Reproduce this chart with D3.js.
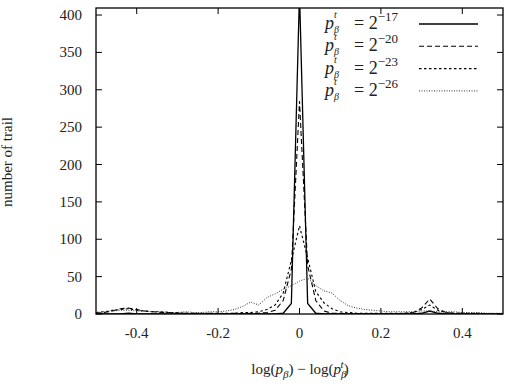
<!DOCTYPE html>
<html>
<head>
<meta charset="utf-8">
<script src="https://cdn.jsdelivr.net/npm/d3@7"></script>
<style>
body { margin:0; background:white; }
text { font-family: "Liberation Serif", "DejaVu Serif", serif; fill:#222; }
</style>
</head>
<body>
<script>
// bins of log(p) - log(p^t)
var bins = [-0.5,-0.48,-0.46,-0.44,-0.42,-0.4,-0.38,-0.36,-0.34,-0.32,-0.3,-0.28,-0.26,-0.24,-0.22,-0.2,-0.18,-0.16,-0.14,-0.12,-0.1,-0.08,-0.06,-0.04,-0.02,
            0,0.02,0.04,0.06,0.08,0.1,0.12,0.14,0.16,0.18,0.2,0.22,0.24,0.26,0.28,0.3,0.32,0.34,0.36,0.38,0.4,0.42,0.44,0.46,0.48,0.5];

var p17 = [0,0,0,0,1,0,0,0,0,0,0,0,0,0,0,0,0,0,0,0,0,0,0,1,14,
           430,14,1,0,0,0,0,0,0,0,0,0,0,0,0,1,4,1,0,0,0,0,0,0,0,0];
var p20 = [1,2,4,7,8,6,4,3,2,2,1,1,1,0,1,0,0,1,0,1,1,2,5,18,60,
           285,65,18,4,1,1,0,0,0,0,0,0,0,1,2,8,20,7,2,1,1,0,0,0,0,0];
var p23 = [2,3,5,6,7,5,4,3,3,2,2,1,1,1,1,1,1,1,2,2,3,6,12,28,72,
           118,75,30,15,7,3,2,1,1,1,1,1,1,1,2,6,12,5,2,1,1,1,1,0,0,0];
var p26 = [2,3,4,5,5,4,4,3,3,2,2,3,2,2,3,3,4,6,10,16,12,22,27,33,38,
           44,48,38,31,28,18,11,8,6,5,4,3,3,3,3,4,4,3,3,3,2,2,2,1,1,1];

var series = [
    {exp:"17", values:p17, dash:null, width:1.3, color:"#000"},
    {exp:"20", values:p20, dash:"5,3", width:1.1, color:"#000"},
    {exp:"23", values:p23, dash:"2.5,2.5", width:1.1, color:"#000"},
    {exp:"26", values:p26, dash:"1,1.5", width:1, color:"#333"}
];

var xTicks = [-0.4,-0.2,0,0.2,0.4];
var yTicks = [0,50,100,150,200,250,300,350,400];

var pLeft = 96, pRight = 503, pTop = 8, pBottom = 314;

var x_scale = d3.scaleLinear().domain([-0.5,0.5]).range([pLeft,pRight]);
var y_scale = d3.scaleLinear().domain([0,409.4]).range([pBottom,pTop]);

var svg = d3.select("body").append("svg")
            .attr("width",512)
            .attr("height",384)
            .style("background","white");

svg.append("clipPath").attr("id","plotclip")
   .append("rect")
   .attr("x",pLeft).attr("y",pTop)
   .attr("width",pRight-pLeft).attr("height",pBottom-pTop);

// ticks, mirrored on all four sides like gnuplot
var tickLen = 6;
svg.selectAll(".xtb").data(xTicks).enter().append("line")
   .attr("x1",d => x_scale(d)).attr("x2",d => x_scale(d))
   .attr("y1",pBottom).attr("y2",pBottom-tickLen)
   .attr("stroke","#000").attr("stroke-width",1);
svg.selectAll(".xtt").data(xTicks).enter().append("line")
   .attr("x1",d => x_scale(d)).attr("x2",d => x_scale(d))
   .attr("y1",pTop).attr("y2",pTop+tickLen)
   .attr("stroke","#000").attr("stroke-width",1);
svg.selectAll(".ytl").data(yTicks).enter().append("line")
   .attr("x1",pLeft).attr("x2",pLeft+tickLen)
   .attr("y1",d => y_scale(d)).attr("y2",d => y_scale(d))
   .attr("stroke","#000").attr("stroke-width",1);
svg.selectAll(".ytr").data(yTicks).enter().append("line")
   .attr("x1",pRight).attr("x2",pRight-tickLen)
   .attr("y1",d => y_scale(d)).attr("y2",d => y_scale(d))
   .attr("stroke","#000").attr("stroke-width",1);

// tick labels
svg.selectAll(".xl").data(xTicks).enter().append("text")
   .attr("x",d => x_scale(d))
   .attr("y",338)
   .attr("text-anchor","middle")
   .style("font-size","15px")
   .text(d => d === 0 ? "0" : d3.format(".1f")(d).replace("−","-"));

svg.selectAll(".yl").data(yTicks).enter().append("text")
   .attr("x",82)
   .attr("y",d => y_scale(d)+5)
   .attr("text-anchor","end")
   .style("font-size","15px")
   .text(d => d);

// lines
var line = d3.line()
             .x((d,i) => x_scale(bins[i]))
             .y(d => y_scale(d));

var plot = svg.append("g").attr("clip-path","url(#plotclip)");
plot.selectAll("path").data(series).enter().append("path")
    .attr("d",d => line(d.values))
    .attr("fill","none")
    .attr("stroke",d => d.color)
    .attr("stroke-width",d => d.width)
    .attr("stroke-dasharray",d => d.dash);

// frame
svg.append("rect")
   .attr("x",pLeft).attr("y",pTop)
   .attr("width",pRight-pLeft).attr("height",pBottom-pTop)
   .attr("fill","none").attr("stroke","#000").attr("stroke-width",1.3);

// legend: p with stacked t / beta, then "= 2^-n"
var legend = svg.selectAll(".leg").data(series).enter().append("g")
                .attr("transform",(d,i) => "translate(0," + (24 + i*22.3) + ")");

legend.append("line")
      .attr("x1",419).attr("x2",478)
      .attr("y1",0).attr("y2",0)
      .attr("stroke",d => d.color)
      .attr("stroke-width",d => d.width)
      .attr("stroke-dasharray",d => d.dash);

legend.append("text")
      .attr("x",325).attr("y",5)
      .style("font-size","18px").style("font-style","italic")
      .text("p");
legend.append("text")
      .attr("x",334).attr("y",-6)
      .style("font-size","10px").style("font-style","italic")
      .text("t");
legend.append("text")
      .attr("x",334).attr("y",9)
      .style("font-size","10px").style("font-style","italic")
      .text("β");
var eq = legend.append("text")
               .attr("x",354).attr("y",5)
               .style("font-size","18px");
eq.append("tspan").text("= 2");
eq.append("tspan").attr("dy",-8).style("font-size","13px").text(d => "−" + d.exp);

// axis titles
svg.append("text")
   .attr("transform","translate(12,162) rotate(-90)")
   .attr("text-anchor","middle")
   .style("font-size","15px")
   .text("number of trail");

var xt = svg.append("text")
            .attr("x",300).attr("y",374)
            .attr("text-anchor","middle")
            .style("font-size","15px");
xt.append("tspan").text("log(");
xt.append("tspan").style("font-style","italic").text("p");
xt.append("tspan").attr("dy",4).style("font-size","11px").style("font-style","italic").text("β");
xt.append("tspan").attr("dy",-4).text(") − log(");
xt.append("tspan").style("font-style","italic").text("p");
xt.append("tspan").attr("dy",4).style("font-size","11px").style("font-style","italic").text("β");
xt.append("tspan").attr("dx",-6).attr("dy",-10).style("font-size","11px").style("font-style","italic").text("t");
xt.append("tspan").attr("dy",6).text(")");
</script>
</body>
</html>
